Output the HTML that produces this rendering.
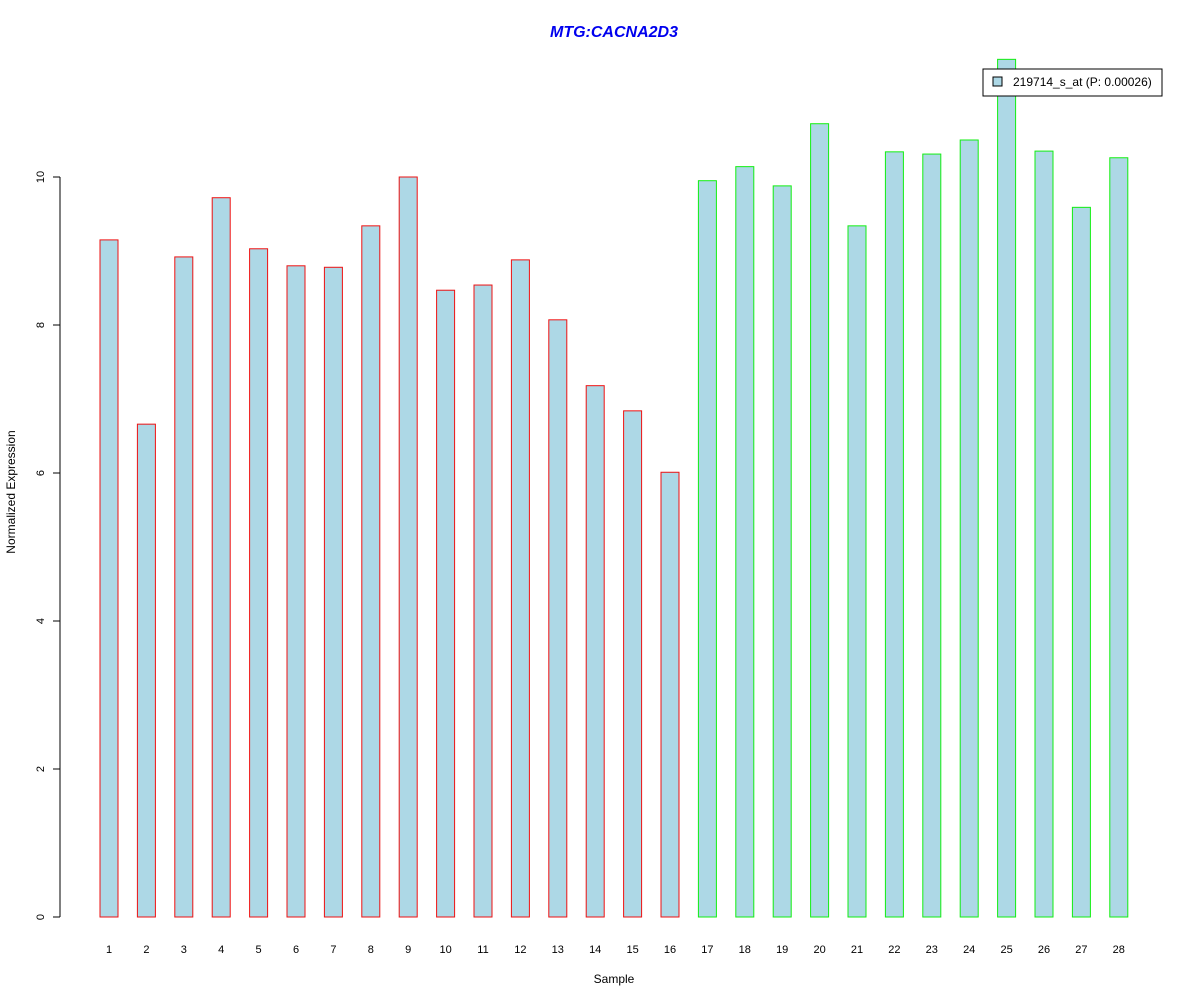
<!DOCTYPE html>
<html><head><meta charset="utf-8"><style>
body{margin:0;background:#fff;}
svg{display:block;font-family:"Liberation Sans",Arial,sans-serif;}
</style></head><body>
<svg id="chart" width="1200" height="1000" xmlns="http://www.w3.org/2000/svg">
<text x="614" y="37" text-anchor="middle" font-size="16" font-weight="bold" font-style="italic" fill="#0000ee">MTG:CACNA2D3</text>
<text x="614" y="983" text-anchor="middle" font-size="12">Sample</text>
<text transform="translate(15,492) rotate(-90)" text-anchor="middle" font-size="12">Normalized Expression</text>
<g id="yaxis"></g>
<g id="bars"></g>
<g id="xlabels"></g>
<g>
<rect x="983" y="69" width="179" height="27" fill="#fff" stroke="#000"/>
<rect x="993" y="77" width="9" height="9" fill="#add8e6" stroke="#000"/>
<text x="1013" y="86" font-size="12">219714_s_at (P: 0.00026)</text>
</g>
</svg>
<script>
const categories=["1","2","3","4","5","6","7","8","9","10","11","12","13","14","15","16","17","18","19","20","21","22","23","24","25","26","27","28"];
const values=[9.15,6.66,8.92,9.72,9.03,8.80,8.78,9.34,10.0,8.47,8.54,8.88,8.07,7.18,6.84,6.01,9.95,10.14,9.88,10.72,9.34,10.34,10.31,10.50,11.59,10.35,9.59,10.26];
const groups=["a","a","a","a","a","a","a","a","a","a","a","a","a","a","a","a","b","b","b","b","b","b","b","b","b","b","b","b"];
const yTicks=[0,2,4,6,8,10];
const NS="http://www.w3.org/2000/svg";
const y=v=>917-v*74;
const x=i=>109+i*37.4;
const bw=18;
const ya=document.getElementById('yaxis');
function mk(t,a,p){const e=document.createElementNS(NS,t);for(const k in a)e.setAttribute(k,a[k]);p.appendChild(e);return e;}
const axl=mk('line',{x1:60,x2:60,y1:y(0),y2:y(10),stroke:'#000'},ya);


yTicks.forEach(t=>{
 const l=mk('line',{x1:53,x2:60,y1:y(t),y2:y(t),stroke:'#000'},ya);
 
 
 const tx=mk('text',{transform:`translate(44,${y(t)}) rotate(-90)`,'text-anchor':'middle','font-size':11},ya);
 tx.textContent=t;
 
 
});
const bg=document.getElementById('bars'),xl=document.getElementById('xlabels');
values.forEach((v,i)=>{
 const r=mk('rect',{x:x(i)-bw/2,y:y(v),width:bw,height:y(0)-y(v),fill:'#add8e6',stroke:groups[i]==='a'?'#ee1111':'#11ee11'},bg);
 
 
 const t=mk('text',{x:x(i),y:953,'text-anchor':'middle','font-size':11},xl);
 t.textContent=categories[i];
 
 
});
</script>
</body></html>
